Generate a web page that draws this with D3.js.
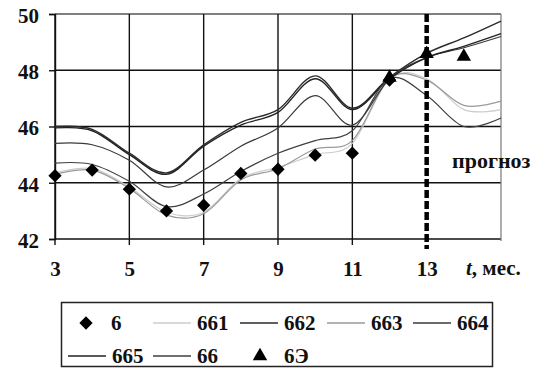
<!DOCTYPE html>
<html>
<head>
<meta charset="utf-8">
<script src="https://cdn.jsdelivr.net/npm/d3@7"></script>
<style>
  html, body { margin: 0; padding: 0; background: #fff; }
  svg { display: block; }
</style>
</head>
<body>
<svg id="chart" width="537" height="368"></svg>
<script>
// Months of the observation and forecast period
const months = [3, 4, 5, 6, 7, 8, 9, 10, 11, 12, 13, 14, 15];

// Observed values (series "6"), months 3..12
const obsMonths = [3, 4, 5, 6, 7, 8, 9, 10, 11, 12];
const s6 = [44.25, 44.45, 43.77, 43.0, 43.2, 44.33, 44.48, 44.98, 45.05, 47.65];

// Reference values (series "6Э"), months 12..14
const refMonths = [12, 13, 14];
const s6E = [47.7, 48.55, 48.45];

// Model curves, months 3..15
const s661 = [44.35, 44.5, 43.85, 42.95, 42.95, 44.15, 44.55, 45.0, 45.4, 47.7, 47.7, 46.6, 46.6];
const s662 = [46.0, 45.9, 45.05, 44.35, 45.35, 46.15, 46.6, 47.8, 46.65, 47.75, 48.6, 49.15, 49.75];
const s663 = [44.3, 44.45, 43.8, 42.85, 42.9, 44.1, 44.5, 45.2, 45.5, 47.7, 47.65, 46.75, 46.9];
const s664 = [45.4, 45.35, 44.8, 43.85, 44.45, 45.3, 45.95, 47.1, 46.05, 47.7, 48.45, 48.8, 49.2];
const s665 = [45.95, 45.85, 45.0, 44.3, 45.3, 46.05, 46.5, 47.7, 46.6, 47.7, 48.45, 48.85, 49.3];
const s66  = [44.7, 44.65, 44.05, 43.15, 43.6, 44.4, 45.05, 45.5, 45.85, 47.7, 47.1, 46.0, 46.3];

const xTicks = [3, 5, 7, 9, 11, 13];
const yTicks = [42, 44, 46, 48, 50];
const forecastMonth = 13;

const lineSeries = [
  { name: "661", values: s661, color: "#cdcdcd", width: 1.2 },
  { name: "662", values: s662, color: "#2a2a2a", width: 1.4 },
  { name: "663", values: s663, color: "#9a9a9a", width: 1.2 },
  { name: "664", values: s664, color: "#3a3a3a", width: 1.2 },
  { name: "665", values: s665, color: "#222222", width: 1.4 },
  { name: "66",  values: s66,  color: "#404040", width: 1.2 }
];

const FONT = "'Liberation Serif', 'Times New Roman', serif";

const svg = d3.select("#chart");
const plotL = 55, plotR = 501, plotT = 14, plotB = 239;

const x = d3.scaleLinear().domain([3, 15]).range([plotL, plotR]);
const y = d3.scaleLinear().domain([42, 50]).range([plotB, plotT]);

function label(sel, size = 21) {
  return sel.style("font-family", FONT).style("font-weight", "bold")
    .style("font-size", size + "px").style("fill", "#111");
}

// Grid: horizontal lines
svg.append("g").selectAll("line").data(yTicks).join("line")
  .attr("x1", plotL).attr("x2", plotR)
  .attr("y1", d => y(d)).attr("y2", d => y(d))
  .attr("stroke", d => d === 50 ? "#555" : "#111").attr("stroke-width", 1.4);

// Grid: vertical lines (except forecast boundary)
svg.append("g").selectAll("line").data(xTicks.filter(t => t !== forecastMonth)).join("line")
  .attr("x1", d => x(d)).attr("x2", d => x(d))
  .attr("y1", plotT).attr("y2", plotB + 6)
  .attr("stroke", "#111").attr("stroke-width", 1.4);

// Right border
svg.append("line")
  .attr("x1", plotR).attr("x2", plotR).attr("y1", plotT).attr("y2", plotB + 2)
  .attr("stroke", "#777").attr("stroke-width", 1.2);

// Y axis ticks and labels
const yAxis = d3.axisLeft(y).tickValues(yTicks).tickSize(6).tickPadding(10).tickFormat(d3.format("d"));
const gy = svg.append("g").attr("transform", `translate(${plotL},0)`).call(yAxis);
gy.select(".domain").attr("stroke", "#111").attr("stroke-width", 1.4);
gy.selectAll(".tick line").attr("stroke", "#111").attr("stroke-width", 1.4);
gy.selectAll(".tick text").call(label).attr("dy", "0.4em");

// X axis labels
const xAxis = d3.axisBottom(x).tickValues(xTicks).tickSize(0).tickPadding(22).tickFormat(d3.format("d"));
const gx = svg.append("g").attr("transform", `translate(0,${plotB})`).call(xAxis);
gx.select(".domain").remove();
gx.selectAll(".tick text").call(label);

// Axis title
const xt = svg.append("text").attr("x", 466).attr("y", 275).call(label);
xt.append("tspan").style("font-style", "italic").text("t");
xt.append("tspan").text(", мес.");

// Smoothed model curves
const curve = d3.line()
  .x((d, i) => x(months[i]))
  .y(d => y(d))
  .curve(d3.curveCardinal.tension(0));

svg.append("g").selectAll("path").data(lineSeries).join("path")
  .attr("d", d => curve(d.values))
  .attr("fill", "none")
  .attr("stroke", d => d.color)
  .attr("stroke-width", d => d.width);

// Forecast boundary
svg.append("line")
  .attr("x1", x(forecastMonth)).attr("x2", x(forecastMonth))
  .attr("y1", plotT).attr("y2", plotB + 10)
  .attr("stroke", "#000").attr("stroke-width", 4.5)
  .attr("stroke-dasharray", "8,3");

svg.append("text").attr("x", 452).attr("y", 168).call(label, 22).text("прогноз");

// Markers: diamond is a square turned by 45 degrees
const diamond = d3.symbol().type(d3.symbolSquare).size(88);
const triangle = d3.symbol().type(d3.symbolTriangle).size(90);

svg.append("g").selectAll("path").data(s6).join("path")
  .attr("transform", (d, i) => `translate(${x(obsMonths[i])},${y(d)}) rotate(45)`)
  .attr("d", diamond).attr("fill", "#000");

svg.append("g").selectAll("path").data(s6E).join("path")
  .attr("transform", (d, i) => `translate(${x(refMonths[i])},${y(d) - 1})`)
  .attr("d", triangle).attr("fill", "#000");

// Legend
const lg = svg.append("g");
lg.append("rect").attr("x", 61.5).attr("y", 302.5).attr("width", 431).attr("height", 64)
  .attr("fill", "#fff").attr("stroke", "#222").attr("stroke-width", 1.5);

const row1 = 323, row2 = 356;
const lineItems = [
  { s: lineSeries[0], x0: 153, row: row1 },
  { s: lineSeries[1], x0: 240, row: row1 },
  { s: lineSeries[2], x0: 327, row: row1 },
  { s: lineSeries[3], x0: 413, row: row1 },
  { s: lineSeries[4], x0: 68,  row: row2 },
  { s: lineSeries[5], x0: 153, row: row2 }
];
lineItems.forEach(it => {
  lg.append("line").attr("x1", it.x0).attr("x2", it.x0 + 38)
    .attr("y1", it.row).attr("y2", it.row)
    .attr("stroke", it.s.color).attr("stroke-width", 1.4);
  lg.append("text").attr("x", it.x0 + 44).attr("y", it.row + 7).call(label).text(it.s.name);
});

lg.append("path").attr("transform", `translate(86,${row1}) rotate(45)`).attr("d", diamond).attr("fill", "#000");
lg.append("text").attr("x", 111).attr("y", row1 + 7).call(label).text("6");
lg.append("path").attr("transform", `translate(260,${row2})`).attr("d", triangle).attr("fill", "#000");
lg.append("text").attr("x", 284).attr("y", row2 + 7).call(label).text("6Э");
</script>
</body>
</html>
